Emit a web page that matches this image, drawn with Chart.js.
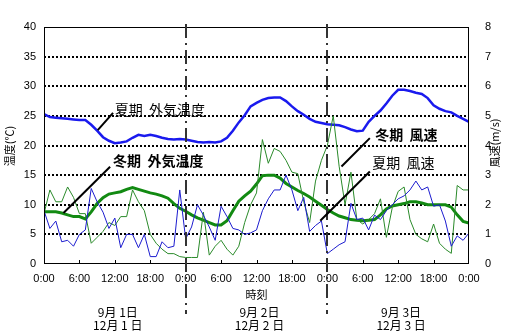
<!DOCTYPE html>
<html>
<head>
<meta charset="utf-8">
<script src="https://cdn.jsdelivr.net/npm/chart.js@4/dist/chart.umd.min.js"></script>
<style>
  html, body { margin: 0; padding: 0; background: #fff; }
  #wrap { width: 523px; height: 336px; }
</style>
</head>
<body>
<div id="wrap"><canvas id="weatherChart" width="523" height="336"></canvas></div>
<script>
// hourly readings, 0:00 day 1 .. 0:00 day 4 (73 points)
var summerTemp = [25.3, 24.8, 24.7, 24.6, 24.5, 24.4, 24.3, 24.3, 23.5, 22.5, 21.4, 20.8, 20.4, 20.5, 20.7, 21.3, 21.8, 21.6, 21.8, 21.6,
  21.3, 21.1, 21.0, 21.1, 21.0, 20.8, 20.6, 20.5, 20.6, 20.5, 20.7, 21.3, 22.5, 23.9, 25.1, 26.6, 27.2, 27.7, 28.0, 28.1,
  28.1, 27.5, 26.6, 25.8, 25.2, 24.5, 24.0, 23.8, 23.6, 23.5, 23.4, 23.1, 22.7, 22.4, 22.5, 24.0, 25.0, 25.9, 27.1, 28.4,
  29.4, 29.4, 29.2, 28.9, 28.7, 28.0, 26.8, 26.2, 25.8, 25.6, 25.0, 24.5, 24.0];
var winterTemp = [8.8, 8.8, 8.8, 8.6, 8.3, 8.0, 8.0, 7.6, 8.8, 10.2, 11.2, 11.8, 12.0, 12.2, 12.6, 12.9, 12.6, 12.3, 12.0, 11.8,
  11.5, 11.1, 10.2, 9.4, 8.9, 8.3, 7.8, 7.4, 7.0, 6.6, 6.6, 7.3, 9.0, 10.6, 11.5, 12.3, 13.5, 14.9, 15.0, 15.0,
  14.5, 13.6, 13.0, 12.4, 11.9, 11.3, 10.6, 9.9, 9.2, 8.6, 8.1, 7.8, 7.5, 7.4, 7.3, 7.4, 7.5, 8.3, 9.3, 9.8,
  10.0, 10.2, 10.5, 10.5, 10.3, 10.0, 10.0, 10.0, 10.0, 9.6, 8.3, 7.2, 6.9];
var summerWind = [1.8, 1.2, 1.45, 0.75, 0.8, 0.6, 1.0, 1.15, 2.55, 2.1, 1.75, 1.2, 1.55, 0.55, 1.0, 1.0, 0.55, 1.0, 0.25, 0.25,
  0.75, 0.55, 0.6, 2.5, 0.85, 1.25, 2.0, 1.65, 1.25, 0.8, 1.95, 1.6, 1.2, 1.15, 1.0, 1.05, 1.15, 1.8, 2.2, 2.5,
  2.5, 3.0, 2.5, 1.8, 2.25, 1.1, 1.3, 1.45, 0.35, 0.5, 0.65, 0.75, 2.05, 1.5, 1.55, 1.15, 1.65, 1.5, 1.8, 2.0,
  2.2, 2.3, 2.5, 2.8, 2.5, 2.6, 1.95, 2.0, 1.45, 0.6, 0.95, 0.8, 1.05];
var winterWind = [1.7, 2.5, 2.1, 2.1, 2.6, 2.25, 1.7, 1.7, 0.7, 0.9, 1.1, 1.4, 1.3, 1.6, 1.6, 2.5, 2.1, 1.8, 1.0, 0.7,
  0.5, 0.35, 0.35, 0.25, 0.22, 0.22, 0.22, 1.75, 0.3, 0.6, 0.8, 0.5, 0.3, 0.6, 1.4, 2.0, 2.4, 4.2, 3.4, 3.9,
  3.8, 3.5, 3.1, 3.05, 2.1, 1.4, 2.8, 3.5, 4.0, 5.0, 3.3, 2.0, 3.1, 1.5, 1.35, 1.5, 1.7, 2.2, 0.9, 1.9,
  2.45, 2.6, 1.5, 1.0, 0.85, 0.75, 1.35, 0.7, 0.5, 0.36, 2.65, 2.5, 2.5];

var xTickLabels = ['0:00', '6:00', '12:00', '18:00', '0:00', '6:00', '12:00', '18:00', '0:00', '6:00', '12:00', '18:00', '0:00'];
var dayLabels = [['9月 1日', '12月 1 日'], ['9月 2日', '12月 2 日'], ['9月 3日', '12月 3 日']];

var jpFont = '"Noto Sans CJK JP", sans-serif';
var numFont = '"Liberation Sans", Arial, sans-serif';

// turn an hourly array into {x, y} points
function toPoints(arr) {
  return arr.map(function (v, i) { return { x: i, y: v }; });
}

// frame, inner ticks, day separators, callouts and titles
var decorPlugin = {
  id: 'decor',
  afterDatasetsDraw: function (chart) {
    var ctx = chart.ctx;
    var area = chart.chartArea;
    var xs = chart.scales.x, yT = chart.scales.yTemp, yW = chart.scales.yWind;

    ctx.save();
    // plot frame
    ctx.strokeStyle = '#000';
    ctx.lineWidth = 1;
    ctx.strokeRect(area.left + 0.5, area.top + 0.5, area.right - area.left - 1, area.bottom - area.top - 1);

    // small inward ticks on the time axis
    for (var h = 6; h < 72; h += 6) {
      var tx = Math.round(xs.getPixelForValue(h)) + 0.5;
      ctx.beginPath();
      ctx.moveTo(tx, area.bottom);
      ctx.lineTo(tx, area.bottom - 4);
      ctx.stroke();
    }

    // dash-dot lines between days
    ctx.strokeStyle = '#333';
    ctx.lineWidth = 2;
    ctx.setLineDash([14, 5, 2, 5]);
    [24, 48].forEach(function (h) {
      var dx = Math.round(xs.getPixelForValue(h));
      ctx.beginPath();
      ctx.moveTo(dx, area.top - 3);
      ctx.lineTo(dx, 314);
      ctx.stroke();
    });
    ctx.setLineDash([]);

    // callout leaders: [h1, v1, h2, v2, axis]
    var leaders = [
      [9.1, 22.6, 11.7, 25.5, yT],
      [3.3, 8.6, 11.2, 16.4, yT],
      [50.4, 3.29, 55.2, 4.25, yW],
      [46.8, 1.46, 55.2, 3.12, yW]
    ];
    ctx.strokeStyle = '#000';
    ctx.lineWidth = 2;
    leaders.forEach(function (l) {
      ctx.beginPath();
      ctx.moveTo(xs.getPixelForValue(l[0]), l[4].getPixelForValue(l[1]));
      ctx.lineTo(xs.getPixelForValue(l[2]), l[4].getPixelForValue(l[3]));
      ctx.stroke();
    });

    // callout texts
    ctx.fillStyle = '#000';
    ctx.textBaseline = 'middle';
    ctx.textAlign = 'left';
    var callouts = [
      ['夏期  外気温度', 12.0, 26.0, yT, false],
      ['冬期  外気温度', 11.7, 17.4, yT, true],
      ['冬期  風速', 56.1, 4.36, yW, true],
      ['夏期  風速', 55.6, 3.41, yW, false]
    ];
    callouts.forEach(function (c) {
      ctx.font = (c[4] ? 'bold ' : '') + '14px ' + jpFont;
      ctx.fillText(c[0], xs.getPixelForValue(c[1]), c[3].getPixelForValue(c[2]));
    });

    // axis titles
    ctx.textAlign = 'center';
    ctx.font = '11px ' + jpFont;
    ctx.fillText('時刻', xs.getPixelForValue(36), 295);

    ctx.save();
    ctx.translate(10, 146);
    ctx.rotate(-Math.PI / 2);
    ctx.fillText('温度(℃)', 0, 0);
    ctx.restore();

    ctx.save();
    ctx.translate(495, 143);
    ctx.rotate(-Math.PI / 2);
    ctx.fillText('風速(m/s)', 0, 0);
    ctx.restore();

    // date labels under each day
    ctx.font = '12px ' + jpFont;
    dayLabels.forEach(function (d, i) {
      var cx = xs.getPixelForValue(i * 24 + 12.5);
      ctx.fillText(d[0], cx, 312);
      ctx.fillText(d[1], cx, 325);
    });
    ctx.restore();
  }
};

var ctx = document.getElementById('weatherChart').getContext('2d');
var weatherChart = new Chart(ctx, {
  type: 'line',
  data: {
    datasets: [
      { label: '夏期 風速', data: toPoints(summerWind), yAxisID: 'yWind', borderColor: '#1c1ccf', borderWidth: 1 },
      { label: '冬期 風速', data: toPoints(winterWind), yAxisID: 'yWind', borderColor: '#2a8a2a', borderWidth: 1 },
      { label: '冬期 外気温度', data: toPoints(winterTemp), yAxisID: 'yTemp', borderColor: '#128a12', borderWidth: 3 },
      { label: '夏期 外気温度', data: toPoints(summerTemp), yAxisID: 'yTemp', borderColor: '#1a1aee', borderWidth: 2.5 }
    ]
  },
  options: {
    responsive: false,
    animation: false,
    events: [],
    layout: { padding: { top: 27, left: 0, right: 0, bottom: 0 } },
    elements: {
      point: { radius: 0 },
      line: { tension: 0, fill: false }
    },
    plugins: {
      legend: { display: false },
      tooltip: { enabled: false }
    },
    scales: {
      x: {
        type: 'linear',
        min: 0,
        max: 72,
        afterFit: function (scale) { scale.height = 72; },
        grid: { display: false },
        border: { display: false },
        ticks: {
          stepSize: 6,
          padding: 0,
          maxRotation: 0,
          color: '#000',
          font: { family: numFont, size: 11 },
          callback: function (v) { return xTickLabels[v / 6]; }
        }
      },
      yTemp: {
        type: 'linear',
        position: 'left',
        min: 0,
        max: 40,
        afterFit: function (scale) { scale.width = 44; },
        border: { display: false, dash: [2, 2] },
        grid: {
          drawTicks: false,
          lineWidth: 2,
          color: function (c) {
            var v = c.tick ? c.tick.value : 0;
            return (v === 0 || v === 40) ? 'rgba(0,0,0,0)' : '#000';
          }
        },
        ticks: {
          stepSize: 5,
          padding: 8,
          color: '#000',
          font: { family: numFont, size: 11 }
        }
      },
      yWind: {
        type: 'linear',
        position: 'right',
        min: 0,
        max: 8,
        afterFit: function (scale) { scale.width = 54; },
        border: { display: false },
        grid: { display: false },
        ticks: {
          stepSize: 1,
          padding: 8,
          color: '#000',
          font: { family: numFont, size: 11 }
        }
      }
    }
  },
  plugins: [decorPlugin]
});
</script>
</body>
</html>
